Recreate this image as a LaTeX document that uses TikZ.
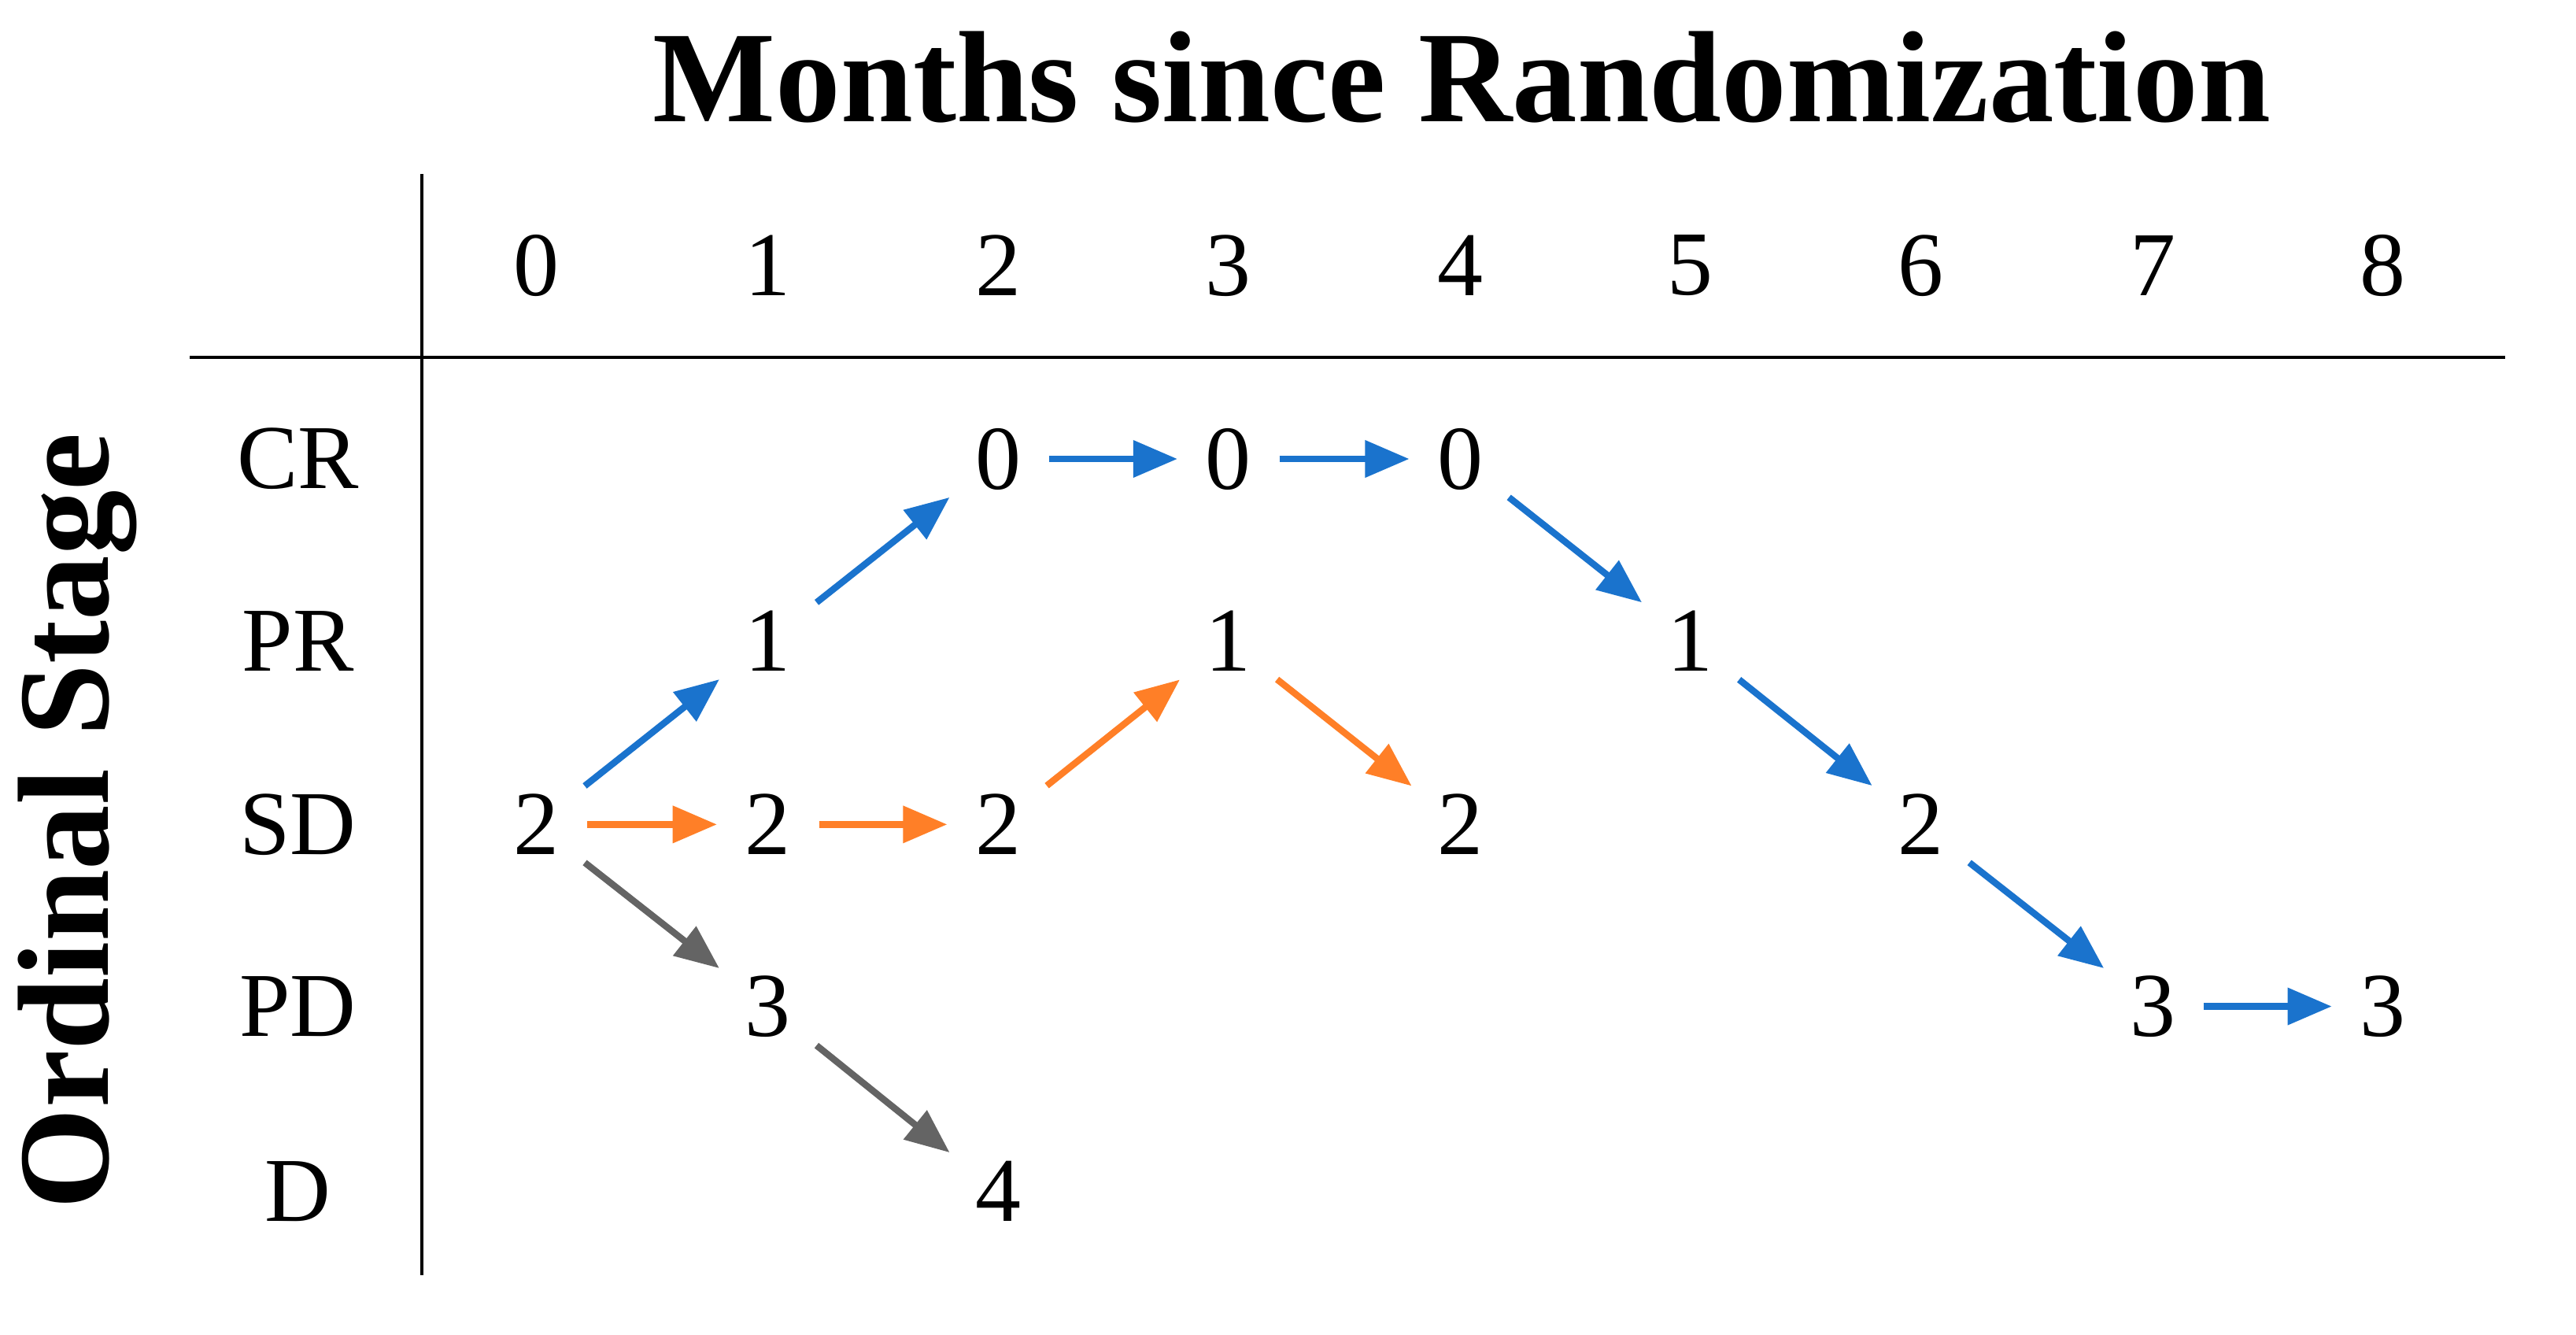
\documentclass[tikz,border=0pt]{standalone}
\usepackage{fontspec}
\setmainfont{Liberation Serif}
\usetikzlibrary{arrows.meta}
\definecolor{cb}{RGB}{26,115,205}
\definecolor{co}{RGB}{255,127,39}
\definecolor{cg}{RGB}{100,100,100}
\tikzset{
 num/.style={font=\fontsize{33}{36}\selectfont, inner sep=6pt},
 lab/.style={font=\fontsize{33}{36}\selectfont},
 ar/.style={line width=2.4pt, -{Triangle[length=16pt,width=13pt]}, shorten <=4pt, shorten >=4pt},
 ttl/.style={font=\bfseries\fontsize{47}{50}\selectfont}
}
\begin{document}
\begin{tikzpicture}[x=0.02046cm,y=-0.02046cm]
\useasboundingbox (0,0) rectangle (1600,828.6);
\node[ttl] (title) at (908,48) {Months since Randomization};
\node[ttl,rotate=90] (ylab) at (48,510) {Ordinal Stage};
\coordinate (v1) at (262,108); \coordinate (v2) at (262,792);
\coordinate (h1) at (118,222); \coordinate (h2) at (1556,222);
\draw[line width=1pt] (v1) -- (v2);
\draw[line width=1pt] (h1) -- (h2);
\foreach \i/\x in {0/333,1/477,2/620,3/763,4/907,5/1050,6/1193,7/1337,8/1480}
  \node[lab] (c\i) at (\x,165) {\i};
\foreach \n/\t/\y in {CR/CR/285,PR/PR/398,SD/SD/512,PD/PD/625,D/D/740}
  \node[lab] (r\n) at (185,\y) {\t};
% values
\node[num] (a) at (333,512) {2};
\node[num] (b1) at (477,398) {1};
\node[num] (b2) at (477,512) {2};
\node[num] (b3) at (477,625) {3};
\node[num] (d0) at (620,285) {0};
\node[num] (d2) at (620,512) {2};
\node[num] (d4) at (620,740) {4};
\node[num] (e0) at (763,285) {0};
\node[num] (e1) at (763,398) {1};
\node[num] (f0) at (907,285) {0};
\node[num] (f2) at (907,512) {2};
\node[num] (g1) at (1050,398) {1};
\node[num] (h2n) at (1193,512) {2};
\node[num] (i3) at (1337,625) {3};
\node[num] (j3) at (1480,625) {3};
\draw[ar,cb] (a) -- (b1);
\draw[ar,cb] (b1) -- (d0);
\draw[ar,cb] (d0) -- (e0);
\draw[ar,cb] (e0) -- (f0);
\draw[ar,cb] (f0) -- (g1);
\draw[ar,cb] (g1) -- (h2n);
\draw[ar,cb] (h2n) -- (i3);
\draw[ar,cb] (i3) -- (j3);
\draw[ar,co] (a) -- (b2);
\draw[ar,co] (b2) -- (d2);
\draw[ar,co] (d2) -- (e1);
\draw[ar,co] (e1) -- (f2);
\draw[ar,cg] (a) -- (b3);
\draw[ar,cg] (b3) -- (d4);
\end{tikzpicture}
\end{document}
